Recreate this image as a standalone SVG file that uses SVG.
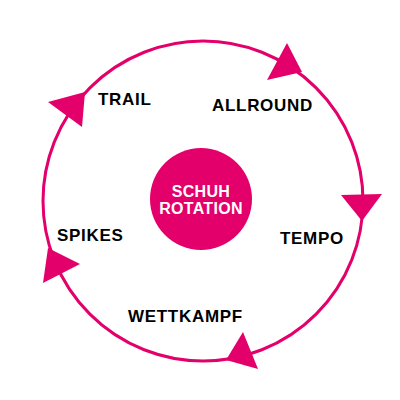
<svg xmlns="http://www.w3.org/2000/svg" width="400" height="400" viewBox="0 0 400 400">
  <style>
    .ring { fill: none; stroke: #E4006B; stroke-width: 3; }
    .head { fill: #E4006B; }
    .lbl { font-family: "Liberation Sans", Arial, sans-serif; font-weight: bold; font-size: 17px; letter-spacing: 0.7px; fill: #000; }
    .ctr { font-family: "Liberation Sans", Arial, sans-serif; font-weight: bold; font-size: 16px; letter-spacing: 0.3px; fill: #fff; text-anchor: middle; }
  </style>
  <rect width="400" height="400" fill="#fff"/>
  <g id="connectors">
    <circle class="ring" cx="203" cy="201" r="160"/>
    <polygon class="head" points="287,43 267,80 302,72"/>
    <polygon class="head" points="341,195 382,194 362,221"/>
    <polygon class="head" points="243,332 226,360 258,369"/>
    <polygon class="head" points="48,248 80,264 43,283"/>
    <polygon class="head" points="48,102 85,92 82,127"/>
  </g>
  <g id="center">
    <circle cx="201" cy="199" r="51" fill="#E4006B"/>
    <text class="ctr" x="201" y="197">SCHUH</text>
    <text class="ctr" x="201" y="213.5">ROTATION</text>
  </g>
  <g id="trail"><text class="lbl" x="98" y="105">TRAIL</text></g>
  <g id="allround"><text class="lbl" x="212" y="111">ALLROUND</text></g>
  <g id="tempo"><text class="lbl" x="280" y="244">TEMPO</text></g>
  <g id="wettkampf"><text class="lbl" x="128" y="322">WETTKAMPF</text></g>
  <g id="spikes"><text class="lbl" x="57" y="241">SPIKES</text></g>
</svg>
